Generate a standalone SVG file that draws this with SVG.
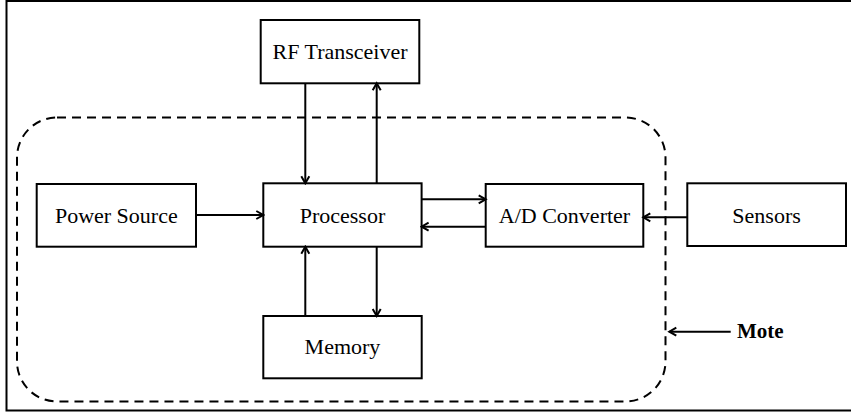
<svg xmlns="http://www.w3.org/2000/svg" width="851" height="412" viewBox="0 0 851 412">
  <style>
    .box { fill: #ffffff; stroke: #000000; stroke-width: 2; }
    .lbl { font-family: "Liberation Serif", "Times New Roman", serif; font-size: 22px; fill: #000000; text-anchor: middle; }
    .edge { fill: none; stroke: #000000; stroke-width: 2; marker-end: url(#arrow); }
    .mote { fill: none; stroke: #000000; stroke-width: 2; stroke-dasharray: 9 6; }
  </style>
  <defs>
    <marker id="arrow" markerUnits="userSpaceOnUse" markerWidth="12" markerHeight="12" viewBox="0 0 12 12" refX="10" refY="6" orient="auto">
      <path d="M3,2 L10,6 L3,10" fill="none" stroke="#000000" stroke-width="2"/>
    </marker>
  </defs>

  <rect width="851" height="412" fill="#ffffff"/>
  <!-- outer frame -->
  <rect x="6.5" y="1" width="846" height="409.5" fill="none" stroke="#000000" stroke-width="2"/>

  <!-- mote boundary -->
  <rect class="mote" x="17" y="117.5" width="648.5" height="284" rx="40" ry="40"/>

  <g id="rf-transceiver">
    <rect class="box" x="260.7" y="20" width="158.6" height="63.3"/>
    <text class="lbl" x="340" y="59.3">RF Transceiver</text>
  </g>
  <g id="power-source">
    <rect class="box" x="36.7" y="184" width="159.3" height="62.7"/>
    <text class="lbl" x="116.3" y="222.8">Power Source</text>
  </g>
  <g id="processor">
    <rect class="box" x="263.3" y="183.3" width="158.3" height="63.4"/>
    <text class="lbl" x="342.5" y="222.7">Processor</text>
  </g>
  <g id="ad-converter">
    <rect class="box" x="485.7" y="184" width="157.6" height="62.7"/>
    <text class="lbl" x="564.5" y="222.8">A/D Converter</text>
  </g>
  <g id="sensors">
    <rect class="box" x="687.3" y="183.3" width="158.7" height="62.7"/>
    <text class="lbl" x="766.6" y="222.5">Sensors</text>
  </g>
  <g id="memory">
    <rect class="box" x="263.3" y="316" width="158.4" height="62.3"/>
    <text class="lbl" x="342.5" y="354">Memory</text>
  </g>

  <g id="connectors">
    <line class="edge" x1="305.3" y1="83.3" x2="305.3" y2="183.3"/>
    <line class="edge" x1="376.7" y1="183.3" x2="376.7" y2="83.3"/>
    <line class="edge" x1="196" y1="215" x2="263.3" y2="215"/>
    <line class="edge" x1="421.6" y1="199.3" x2="485.7" y2="199.3"/>
    <line class="edge" x1="485.7" y1="226.7" x2="421.6" y2="226.7"/>
    <line class="edge" x1="687.3" y1="217.3" x2="643.3" y2="217.3"/>
    <line class="edge" x1="305.3" y1="316" x2="305.3" y2="246.7"/>
    <line class="edge" x1="376.7" y1="246.7" x2="376.7" y2="316"/>
    <line class="edge" x1="730.7" y1="331.7" x2="669.3" y2="331.7"/>
  </g>

  <text x="737" y="337.5" font-family="'Liberation Serif', 'Times New Roman', serif" font-size="21" font-weight="bold" fill="#000000">Mote</text>
</svg>
